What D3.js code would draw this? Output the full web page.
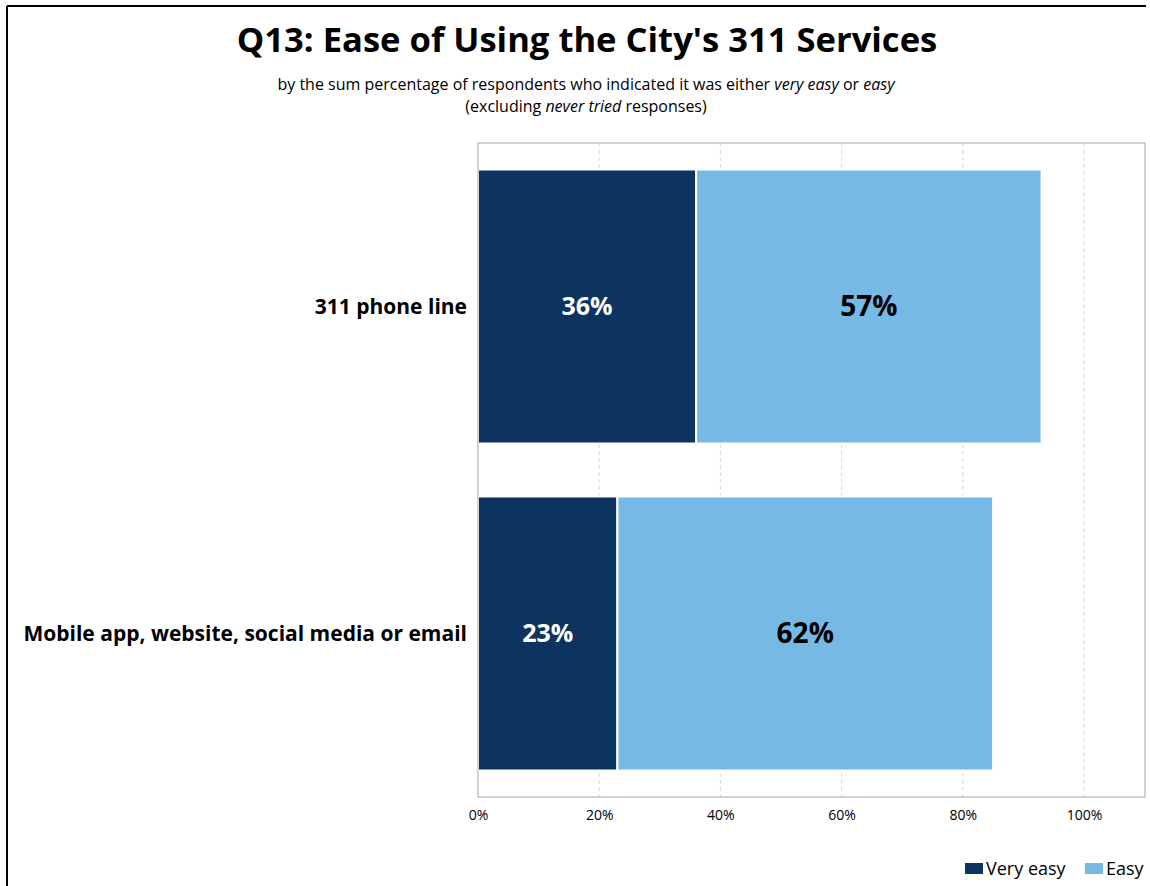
<!DOCTYPE html>
<html>
<head>
<meta charset="utf-8">
<script src="https://cdn.jsdelivr.net/npm/d3@7"></script>
<style>
  html, body { margin: 0; padding: 0; background: #fff; }
  svg { display: block; font-family: "Open Sans", "Noto Sans", sans-serif; }
</style>
</head>
<body>
<svg id="chart" width="1150" height="886"></svg>
<script>
// Survey results: share of respondents rating each 311 channel easy to use
const categories = ["311 phone line", "Mobile app, website, social media or email"];
const seriesNames = ["Very easy", "Easy"];
const veryEasy = [36, 23];
const easy = [57, 62];
const tickValues = [0, 20, 40, 60, 80, 100];
const colors = ["#0d345e", "#75b9e4"];
const labelColors = ["#ffffff", "#000000"];

const svg = d3.select("#chart");
const W = 1150, H = 886;

// Page frame (top and left rule)
svg.append("line").attr("x1", 7).attr("x2", 1146).attr("y1", 6).attr("y2", 6)
  .attr("stroke", "#000").attr("stroke-width", 2);
svg.append("line").attr("x1", 7).attr("x2", 7).attr("y1", 6).attr("y2", H)
  .attr("stroke", "#000").attr("stroke-width", 2);

// Title block
svg.append("text").attr("x", 587).attr("y", 52).attr("text-anchor", "middle")
  .attr("font-size", 34.6).attr("font-weight", 700).attr("fill", "#000")
  .text("Q13: Ease of Using the City's 311 Services");

const sub1 = svg.append("text").attr("x", 586).attr("y", 90).attr("text-anchor", "middle")
  .attr("font-size", 16).attr("fill", "#000");
sub1.append("tspan").text("by the sum percentage of respondents who indicated it was either ");
sub1.append("tspan").attr("font-style", "italic").text("very easy");
sub1.append("tspan").text(" or ");
sub1.append("tspan").attr("font-style", "italic").text("easy");

const sub2 = svg.append("text").attr("x", 586).attr("y", 112).attr("text-anchor", "middle")
  .attr("font-size", 16).attr("fill", "#000");
sub2.append("tspan").text("(excluding ");
sub2.append("tspan").attr("font-style", "italic").text("never tried");
sub2.append("tspan").text(" responses)");

// Plot area
const plot = { left: 478, right: 1145, top: 143, bottom: 797 };
const x = d3.scaleLinear().domain([0, 100]).range([plot.left, 1084]);
const y = d3.scaleBand().domain(categories).range([plot.top, plot.bottom])
  .paddingInner(0.162).paddingOuter(0.081);

// Dashed vertical gridlines
svg.append("g").selectAll("line").data(tickValues.filter(d => d > 0)).join("line")
  .attr("x1", d => x(d)).attr("x2", d => x(d))
  .attr("y1", plot.top).attr("y2", plot.bottom)
  .attr("stroke", "#d9d9d9").attr("stroke-width", 1).attr("stroke-dasharray", "4,3");

// Stacked bars
const rows = categories.map((c, i) => ({ cat: c, "Very easy": veryEasy[i], "Easy": easy[i] }));
const stacked = d3.stack().keys(seriesNames)(rows);

const layers = svg.append("g").selectAll("g").data(stacked).join("g")
  .attr("fill", (d, i) => colors[i]);

layers.selectAll("rect").data(d => d).join("rect")
  .attr("x", d => x(d[0]))
  .attr("y", d => y(d.data.cat))
  .attr("width", d => x(d[1]) - x(d[0]))
  .attr("height", y.bandwidth())
  .attr("stroke", "#fff").attr("stroke-width", 2);

// Value labels
layers.each(function(layer, li) {
  d3.select(this).selectAll("text").data(layer).join("text")
    .attr("x", d => (x(d[0]) + x(d[1])) / 2)
    .attr("y", d => y(d.data.cat) + y.bandwidth() / 2)
    .attr("dy", "0.35em")
    .attr("text-anchor", "middle")
    .attr("font-size", li === 0 ? 25 : 28)
    .attr("font-weight", 700)
    .attr("fill", labelColors[li])
    .text(d => Math.round(d[1] - d[0]) + "%");
});

// Plot frame
svg.append("rect").attr("x", plot.left).attr("y", plot.top)
  .attr("width", plot.right - plot.left).attr("height", plot.bottom - plot.top)
  .attr("fill", "none").attr("stroke", "#a6a6a6").attr("stroke-width", 1);

// Category axis labels
svg.append("g").selectAll("text").data(categories).join("text")
  .attr("x", 467)
  .attr("y", d => y(d) + y.bandwidth() / 2)
  .attr("dy", "0.35em")
  .attr("text-anchor", "end")
  .attr("font-size", 21).attr("font-weight", 700).attr("fill", "#000")
  .text(d => d);

// Value axis
const xAxis = d3.axisBottom(x).tickValues(tickValues).tickSize(0).tickPadding(13)
  .tickFormat(d => d + "%");
const gx = svg.append("g").attr("transform", `translate(0,${plot.bottom})`).call(xAxis);
gx.select(".domain").remove();
gx.selectAll("text").attr("font-size", 14).attr("fill", "#000")
  .attr("font-family", "\"Open Sans\", sans-serif");

// Legend
const legendItems = [
  { name: seriesNames[0], color: colors[0], x: 965 },
  { name: seriesNames[1], color: colors[1], x: 1085 }
];
const lg = svg.append("g").selectAll("g").data(legendItems).join("g")
  .attr("transform", d => `translate(${d.x},863)`);
lg.append("rect").attr("width", 18).attr("height", 11).attr("fill", d => d.color);
lg.append("text").attr("x", 21).attr("y", 6).attr("dy", "0.35em")
  .attr("font-size", 18).attr("fill", "#000").text(d => d.name);
</script>
</body>
</html>
